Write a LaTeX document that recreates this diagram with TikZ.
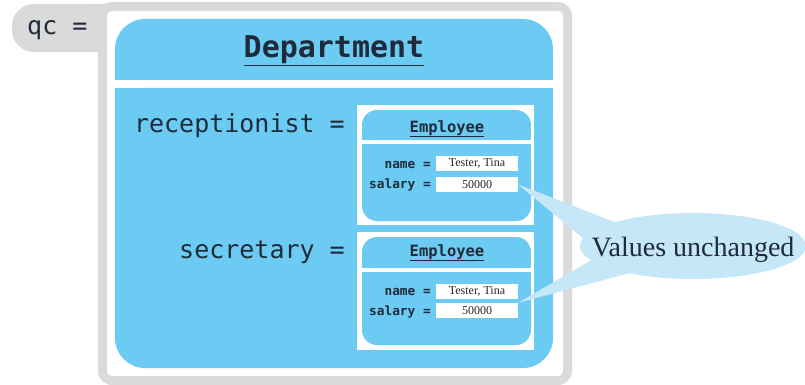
\documentclass[tikz,border=0pt]{standalone}
\usepackage{fontspec}
\setmainfont{Liberation Serif}
\setmonofont{DejaVu Sans Mono}
\usetikzlibrary{shapes.geometric}

\definecolor{objblue}{HTML}{6BCBF3}
\definecolor{framegray}{HTML}{DADADA}
\definecolor{notefill}{HTML}{C6E7F7}
\definecolor{ink}{HTML}{1F2B3A}

\tikzset{
	code/.style={font=\ttfamily\fontsize{25}{30}\selectfont, text=ink, inner sep=0pt},
	classname/.style={font=\ttfamily\bfseries\fontsize{15.5}{18}\selectfont, text=ink, inner sep=0pt, anchor=base},
	field/.style={font=\ttfamily\bfseries\fontsize{12.8}{15}\selectfont, text=ink, inner sep=0pt, anchor=base east},
	valbox/.style={fill=white, minimum width=82pt, minimum height=15pt, inner sep=0pt, font=\fontsize{12}{14}\selectfont, text=black!85},
}

\begin{document}
\begin{tikzpicture}[x=1pt,y=-1pt]
	\useasboundingbox (0,0) rectangle (805,385);

	% Рамка переменной qc
	\fill[framegray, rounded corners=22pt] (12,4) rectangle (108,52);
	\fill[framegray] (50,4) rectangle (108,52);
	\fill[framegray, rounded corners=14pt] (98,2) rectangle (572,385);
	\fill[white, rounded corners=5pt] (107,11) rectangle (563,376);
	\node[code, anchor=base west] (qc) at (27,35) {qc =};

	% Объект Department
	\fill[objblue, rounded corners=30pt] (115,19) rectangle (553,80);
	\fill[objblue] (115,50) rectangle (553,80);
	\fill[objblue, rounded corners=30pt] (115,88) rectangle (553,368);
	\fill[objblue] (115,88) rectangle (553,140);
	\node[code, font=\ttfamily\bfseries\fontsize{30}{36}\selectfont, anchor=base] (dept) at (334,58) {\underline{Department}};

	\node[code, anchor=base east] (recep) at (345,132) {receptionist =};
	\node[code, anchor=base east] (secr) at (345,258) {secretary =};

	% Первый Employee
	\fill[white] (357,105) rectangle (534,225);
	\fill[objblue, rounded corners=15pt] (362,110) rectangle (531,140);
	\fill[objblue] (362,125) rectangle (531,140);
	\fill[objblue, rounded corners=15pt] (362,144) rectangle (531,221);
	\fill[objblue] (362,144) rectangle (531,170);
	\node[classname] (emp1) at (447,132) {\underline{Employee}};
	\node[field] (namelbl1) at (431,168) {name =};
	\node[field] (sallbl1) at (431,188) {salary =};
	\node[valbox] (name1) at (477,163) {Tester, Tina};
	\node[valbox] (sal1) at (477,184.5) {50000};

	% Второй Employee
	\fill[white] (357,232) rectangle (534,350);
	\fill[objblue, rounded corners=15pt] (362,237) rectangle (531,268);
	\fill[objblue] (362,252) rectangle (531,268);
	\fill[objblue, rounded corners=15pt] (362,272) rectangle (531,345);
	\fill[objblue] (362,272) rectangle (531,300);
	\node[classname] (emp2) at (447,256) {\underline{Employee}};
	\node[field] (namelbl2) at (431,295) {name =};
	\node[field] (sallbl2) at (431,315) {salary =};
	\node[valbox] (name2) at (477,291) {Tester, Tina};
	\node[valbox] (sal2) at (477,310.5) {50000};

	% Выноска
	\node[ellipse, fill=notefill, minimum width=226pt, minimum height=66pt, inner sep=0pt] (note) at (693,246) {};
	\fill[notefill] (sal1.east) -- (note.163) -- (note.176) -- cycle;
	\fill[notefill] (sal2.north east) -- (note.188) -- (note.203) -- cycle;
	\node[anchor=base, inner sep=0pt, font=\fontsize{28}{32}\selectfont, text=ink] (notetext) at (693,256) {Values unchanged};
\end{tikzpicture}
\end{document}
